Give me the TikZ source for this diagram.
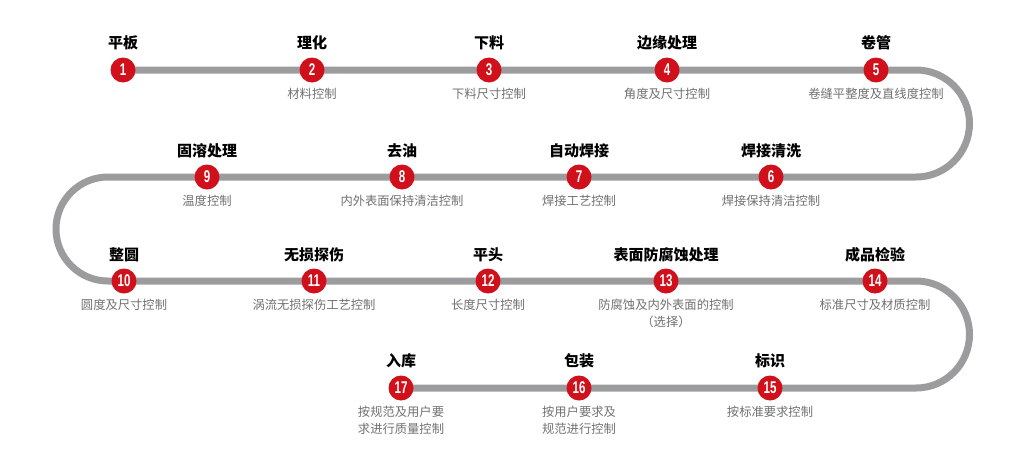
\documentclass[tikz,border=0pt]{standalone}
\usepackage{fontspec}
\setmainfont{Noto Sans CJK SC}
\newfontfamily\numfont{Liberation Sans}
\definecolor{trackgray}{HTML}{9C9C9E}
\definecolor{stepred}{HTML}{D0101B}
\definecolor{subgray}{HTML}{707070}
\tikzset{
  track/.style={draw=trackgray, line width=7pt, line cap=butt},
  stepdot/.style={circle, fill=stepred, minimum size=25pt, inner sep=0pt,
    font=\numfont\bfseries\fontsize{17}{17}\selectfont, text=white},
  steptitle/.style={font=\bfseries\fontsize{15}{15}\selectfont, text=black, anchor=center},
  stepsub/.style={font=\fontsize{12.3}{17}\selectfont, text=subgray, align=center, anchor=north},
}
\newcommand{\stepnum}[1]{\scalebox{0.68}[1]{#1}}
\begin{document}
\begin{tikzpicture}[x=1pt,y=-1pt]
\useasboundingbox (0,0) rectangle (1024,474);
% track
\coordinate (a1) at (916,70);
\coordinate (a2) at (108,177);
\coordinate (a3) at (916,281);
\coordinate (s) at (123,70);
\coordinate (e) at (401,388);
\draw[track] (s) -- (a1) arc[start angle=90, end angle=-90, radius=53.5pt] -- (a2)
  arc[start angle=90, end angle=270, radius=52pt] -- (a3)
  arc[start angle=90, end angle=-90, radius=53.5pt] -- (e);
% row 1
\foreach \n/\x/\t/\s in {1/123/平板/{}, 2/312/理化/材料控制, 3/489/下料/下料尺寸控制, 4/667/边缘处理/角度及尺寸控制, 5/876/卷管/卷缝平整度及直线度控制}{
  \node[stepdot] (n\n) at (\x,70) {\stepnum{\n}};
  \node[steptitle] (t\n) at (\x,43) {\t};
  \node[stepsub] (d\n) at (\x,85) {\s};
}
% row 2
\foreach \n/\x/\t/\s in {9/207/固溶处理/温度控制, 8/402/去油/内外表面保持清洁控制, 7/579/自动焊接/焊接工艺控制, 6/771/焊接清洗/焊接保持清洁控制}{
  \node[stepdot] (n\n) at (\x,177) {\stepnum{\n}};
  \node[steptitle] (t\n) at (\x,151) {\t};
  \node[stepsub] (d\n) at (\x,192) {\s};
}
% row 3
\foreach \n/\x/\t/\s in {10/124/整圆/圆度及尺寸控制, 11/314/无损探伤/涡流无损探伤工艺控制, 12/488/平头/长度尺寸控制, 13/666/表面防腐蚀处理/{防腐蚀及内外表面的控制\\（选择）}, 14/875/成品检验/标准尺寸及材质控制}{
  \node[stepdot] (n\n) at (\x,281) {\stepnum{\n}};
  \node[steptitle] (t\n) at (\x,255) {\t};
  \node[stepsub] (d\n) at (\x,296) {\s};
}
% row 4
\foreach \n/\x/\t/\s in {17/401/入库/{按规范及用户要\\求进行质量控制}, 16/579/包装/{按用户要求及\\规范进行控制}, 15/770/标识/按标准要求控制}{
  \node[stepdot] (n\n) at (\x,388) {\stepnum{\n}};
  \node[steptitle] (t\n) at (\x,361) {\t};
  \node[stepsub] (d\n) at (\x,403) {\s};
}
\end{tikzpicture}
\end{document}
